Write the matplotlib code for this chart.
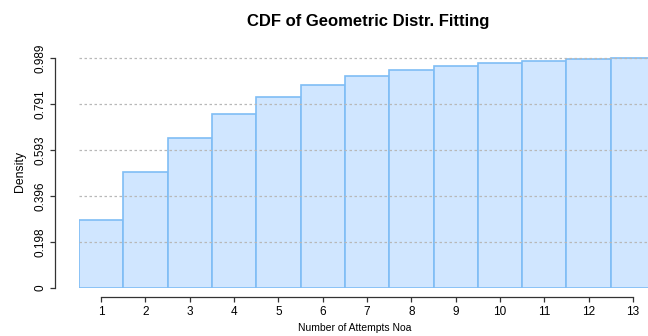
import matplotlib
matplotlib.use('Agg')
import matplotlib.pyplot as plt
import numpy as np

plt.rcParams['font.family'] = ['Liberation Sans', 'DejaVu Sans']

# CDF values
attempts = [1, 2, 3, 4, 5, 6, 7, 8, 9, 10, 11, 12, 13]
cdf = [0.292, 0.497, 0.643, 0.749, 0.822, 0.874, 0.911, 0.936, 0.955, 0.968, 0.977, 0.984, 0.989]
yticks = [0, 0.198, 0.396, 0.593, 0.791, 0.989]
ytick_labels = ['0', '0.198', '0.396', '0.593', '0.791', '0.989']

W, H = 648, 336
fig = plt.figure(figsize=(W / 100, H / 100), dpi=100)

ymax = 1.0
top_px = 288 - 230 / 0.989 * ymax
ax = fig.add_axes([79 / W, 48 / H, (W - 79) / W, (288 - top_px) / H])

ax.bar(attempts, cdf, width=1.0, color='#d0e6ff', edgecolor='#7fbdf5',
       linewidth=1.2, zorder=2)

for y in yticks[1:]:
    ax.axhline(y, color='#b8b8b8', linestyle=(0, (2, 2)), linewidth=0.9, zorder=3)

ax.set_xlim(0.5, 13.34)
ax.set_ylim(0, ymax)

# R-style detached axes (offsets in points: px * 0.72)
ax.spines['top'].set_visible(False)
ax.spines['right'].set_visible(False)
ax.spines['left'].set_position(('outward', 17))
ax.spines['left'].set_bounds(0, 0.989)
ax.spines['bottom'].set_position(('outward', 6.8))
ax.spines['bottom'].set_bounds(1, 13)
for s in ('left', 'bottom'):
    ax.spines[s].set_color('#333333')
    ax.spines[s].set_linewidth(0.9)

ax.set_xticks(attempts)
ax.set_xticklabels([str(a) for a in attempts], fontsize=8.5)
ax.set_yticks(yticks)
ax.set_yticklabels(ytick_labels, fontsize=8.5, rotation=90, va='center', ha='center')
ax.tick_params(axis='both', length=3.6, width=0.9, color='#333333')
ax.tick_params(axis='x', pad=2.5)
ax.tick_params(axis='y', pad=7)

fig.text(368 / W, 1 - 21.5 / H, 'CDF of Geometric Distr. Fitting', ha='center',
         va='center', fontsize=12, fontweight='bold')
fig.text(298 / W, 1 - 328 / H, 'Number of Attempts Noa', ha='left',
         va='center', fontsize=7.5)
fig.text(20 / W, 1 - 172 / H, 'Density', ha='center', va='center',
         fontsize=8.8, rotation=90)

fig.savefig('out.png', dpi=100)
